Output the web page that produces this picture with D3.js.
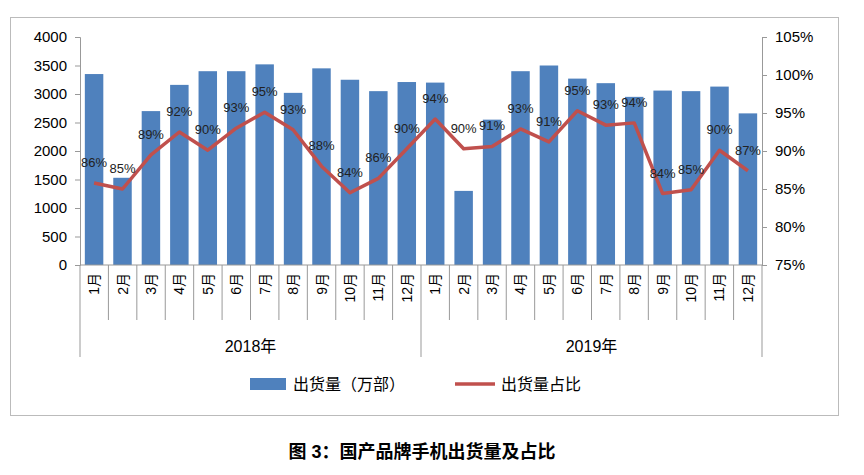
<!DOCTYPE html>
<html><head><meta charset="utf-8">
<script src="https://cdn.jsdelivr.net/npm/d3@7"></script>
<style>body{margin:0;background:#fff;font-family:"Liberation Sans","Noto Sans CJK SC",sans-serif}</style>
</head><body><div id="output"></div>
<script>
const years = ["2018年", "2019年"];
const months = ["1月","2月","3月","4月","5月","6月","7月","8月","9月","10月","11月","12月"];
const shipments = [3350,1530,2700,3160,3400,3400,3520,3020,3450,3250,3050,3210,
                   3200,1300,2550,3400,3500,3270,3190,2950,3060,3050,3130,2660];
const shares = [85.8,85.0,89.5,92.5,90.1,93.0,95.1,92.8,88.0,84.5,86.4,90.3,
                94.2,90.3,90.6,92.9,91.2,95.3,93.4,93.7,84.4,84.9,90.1,87.4];
const shareLabels = ["86%","85%","89%","92%","90%","93%","95%","93%","88%","84%","86%","90%",
                     "94%","90%","91%","93%","91%","95%","93%","94%","84%","85%","90%","87%"];
const leftTicks = [0,500,1000,1500,2000,2500,3000,3500,4000];
const rightTicks = [75,80,85,90,95,100,105];

const W = 864, H = 475;
const svg = d3.select("#output").append("svg").attr("width", W).attr("height", H);
svg.append("rect").attr("x", 10.5).attr("y", 17.5).attr("width", 828).attr("height", 398)
  .attr("fill", "none").attr("stroke", "#bbb");

const pLeft = 80, pRight = 762, pTop = 37, pBottom = 265;
const keys = d3.range(24);
const x = d3.scaleBand().domain(keys).range([pLeft, pRight]).paddingInner(0.35).paddingOuter(0.17);
const step = (pRight - pLeft) / 24;
const y = d3.scaleLinear().domain([0, 4000]).range([pBottom, pTop]);
const y2 = d3.scaleLinear().domain([75, 105]).range([pBottom, pTop]);

// Axes
svg.append("g").attr("transform", `translate(${pLeft},0)`)
  .call(d3.axisLeft(y).tickValues(leftTicks).tickFormat(d3.format("d")).tickSize(5).tickPadding(8))
  .call(g => g.selectAll("text").attr("font-size", 15).attr("fill", "#000"))
  .call(g => g.selectAll("path,line").attr("stroke", "#999"));
svg.append("g").attr("transform", `translate(${pRight},0)`)
  .call(d3.axisRight(y2).tickValues(rightTicks).tickFormat(d => d + "%").tickSize(5).tickPadding(8))
  .call(g => g.selectAll("text").attr("font-size", 15).attr("fill", "#000"))
  .call(g => g.selectAll("path,line").attr("stroke", "#999"));

// Bars
svg.selectAll(".bar").data(shipments).enter().append("rect")
  .attr("x", (d, i) => x(i)).attr("width", x.bandwidth())
  .attr("y", d => y(d)).attr("height", d => y(0) - y(d))
  .attr("fill", "#4f81bd");

// Category axis
svg.append("line").attr("x1", pLeft).attr("x2", pRight).attr("y1", pBottom).attr("y2", pBottom).attr("stroke", "#999");
const cat = svg.append("g").attr("stroke", "#999");
d3.range(25).forEach(i => {
  const xx = pLeft + i * step;
  const len = (i % 12 === 0) ? 92 : 55;
  cat.append("line").attr("x1", xx).attr("x2", xx).attr("y1", pBottom).attr("y2", pBottom + len);
});
svg.selectAll(".mlab").data(keys).enter().append("text")
  .attr("transform", i => `translate(${pLeft + (i + 0.5) * step + 5},${pBottom + 8}) rotate(-90)`)
  .attr("text-anchor", "end").attr("font-size", 14)
  .text(i => months[i % 12]);
svg.selectAll(".ylab").data(years).enter().append("text")
  .attr("x", (d, i) => pLeft + (i * 12 + 6) * step).attr("y", pBottom + 87)
  .attr("text-anchor", "middle").attr("font-size", 16).text(d => d);

// Line
const line = d3.line().x((d, i) => x(i) + x.bandwidth() / 2).y(d => y2(d));
svg.append("path").datum(shares).attr("d", line).attr("fill", "none")
  .attr("stroke", "#c0504d").attr("stroke-width", 3.5).attr("stroke-linejoin", "round");
svg.selectAll(".plab").data(shares).enter().append("text")
  .attr("x", (d, i) => x(i) + x.bandwidth() / 2).attr("y", d => y2(d) - 16)
  .attr("text-anchor", "middle").attr("font-size", 13).attr("fill", "#222")
  .text((d, i) => shareLabels[i]);

// Legend
svg.append("rect").attr("x", 250).attr("y", 378).attr("width", 36).attr("height", 12).attr("fill", "#4f81bd");
svg.append("text").attr("x", 293).attr("y", 390).attr("font-size", 16).text("出货量（万部）");
svg.append("line").attr("x1", 455).attr("x2", 495).attr("y1", 384).attr("y2", 384)
  .attr("stroke", "#c0504d").attr("stroke-width", 3.5);
svg.append("text").attr("x", 501).attr("y", 390).attr("font-size", 16).text("出货量占比");

// Caption
svg.append("text").attr("x", W / 2 - 10).attr("y", 458).attr("text-anchor", "middle")
  .attr("font-size", 18).attr("font-weight", "bold").text("图 3：国产品牌手机出货量及占比");
</script></body></html>
